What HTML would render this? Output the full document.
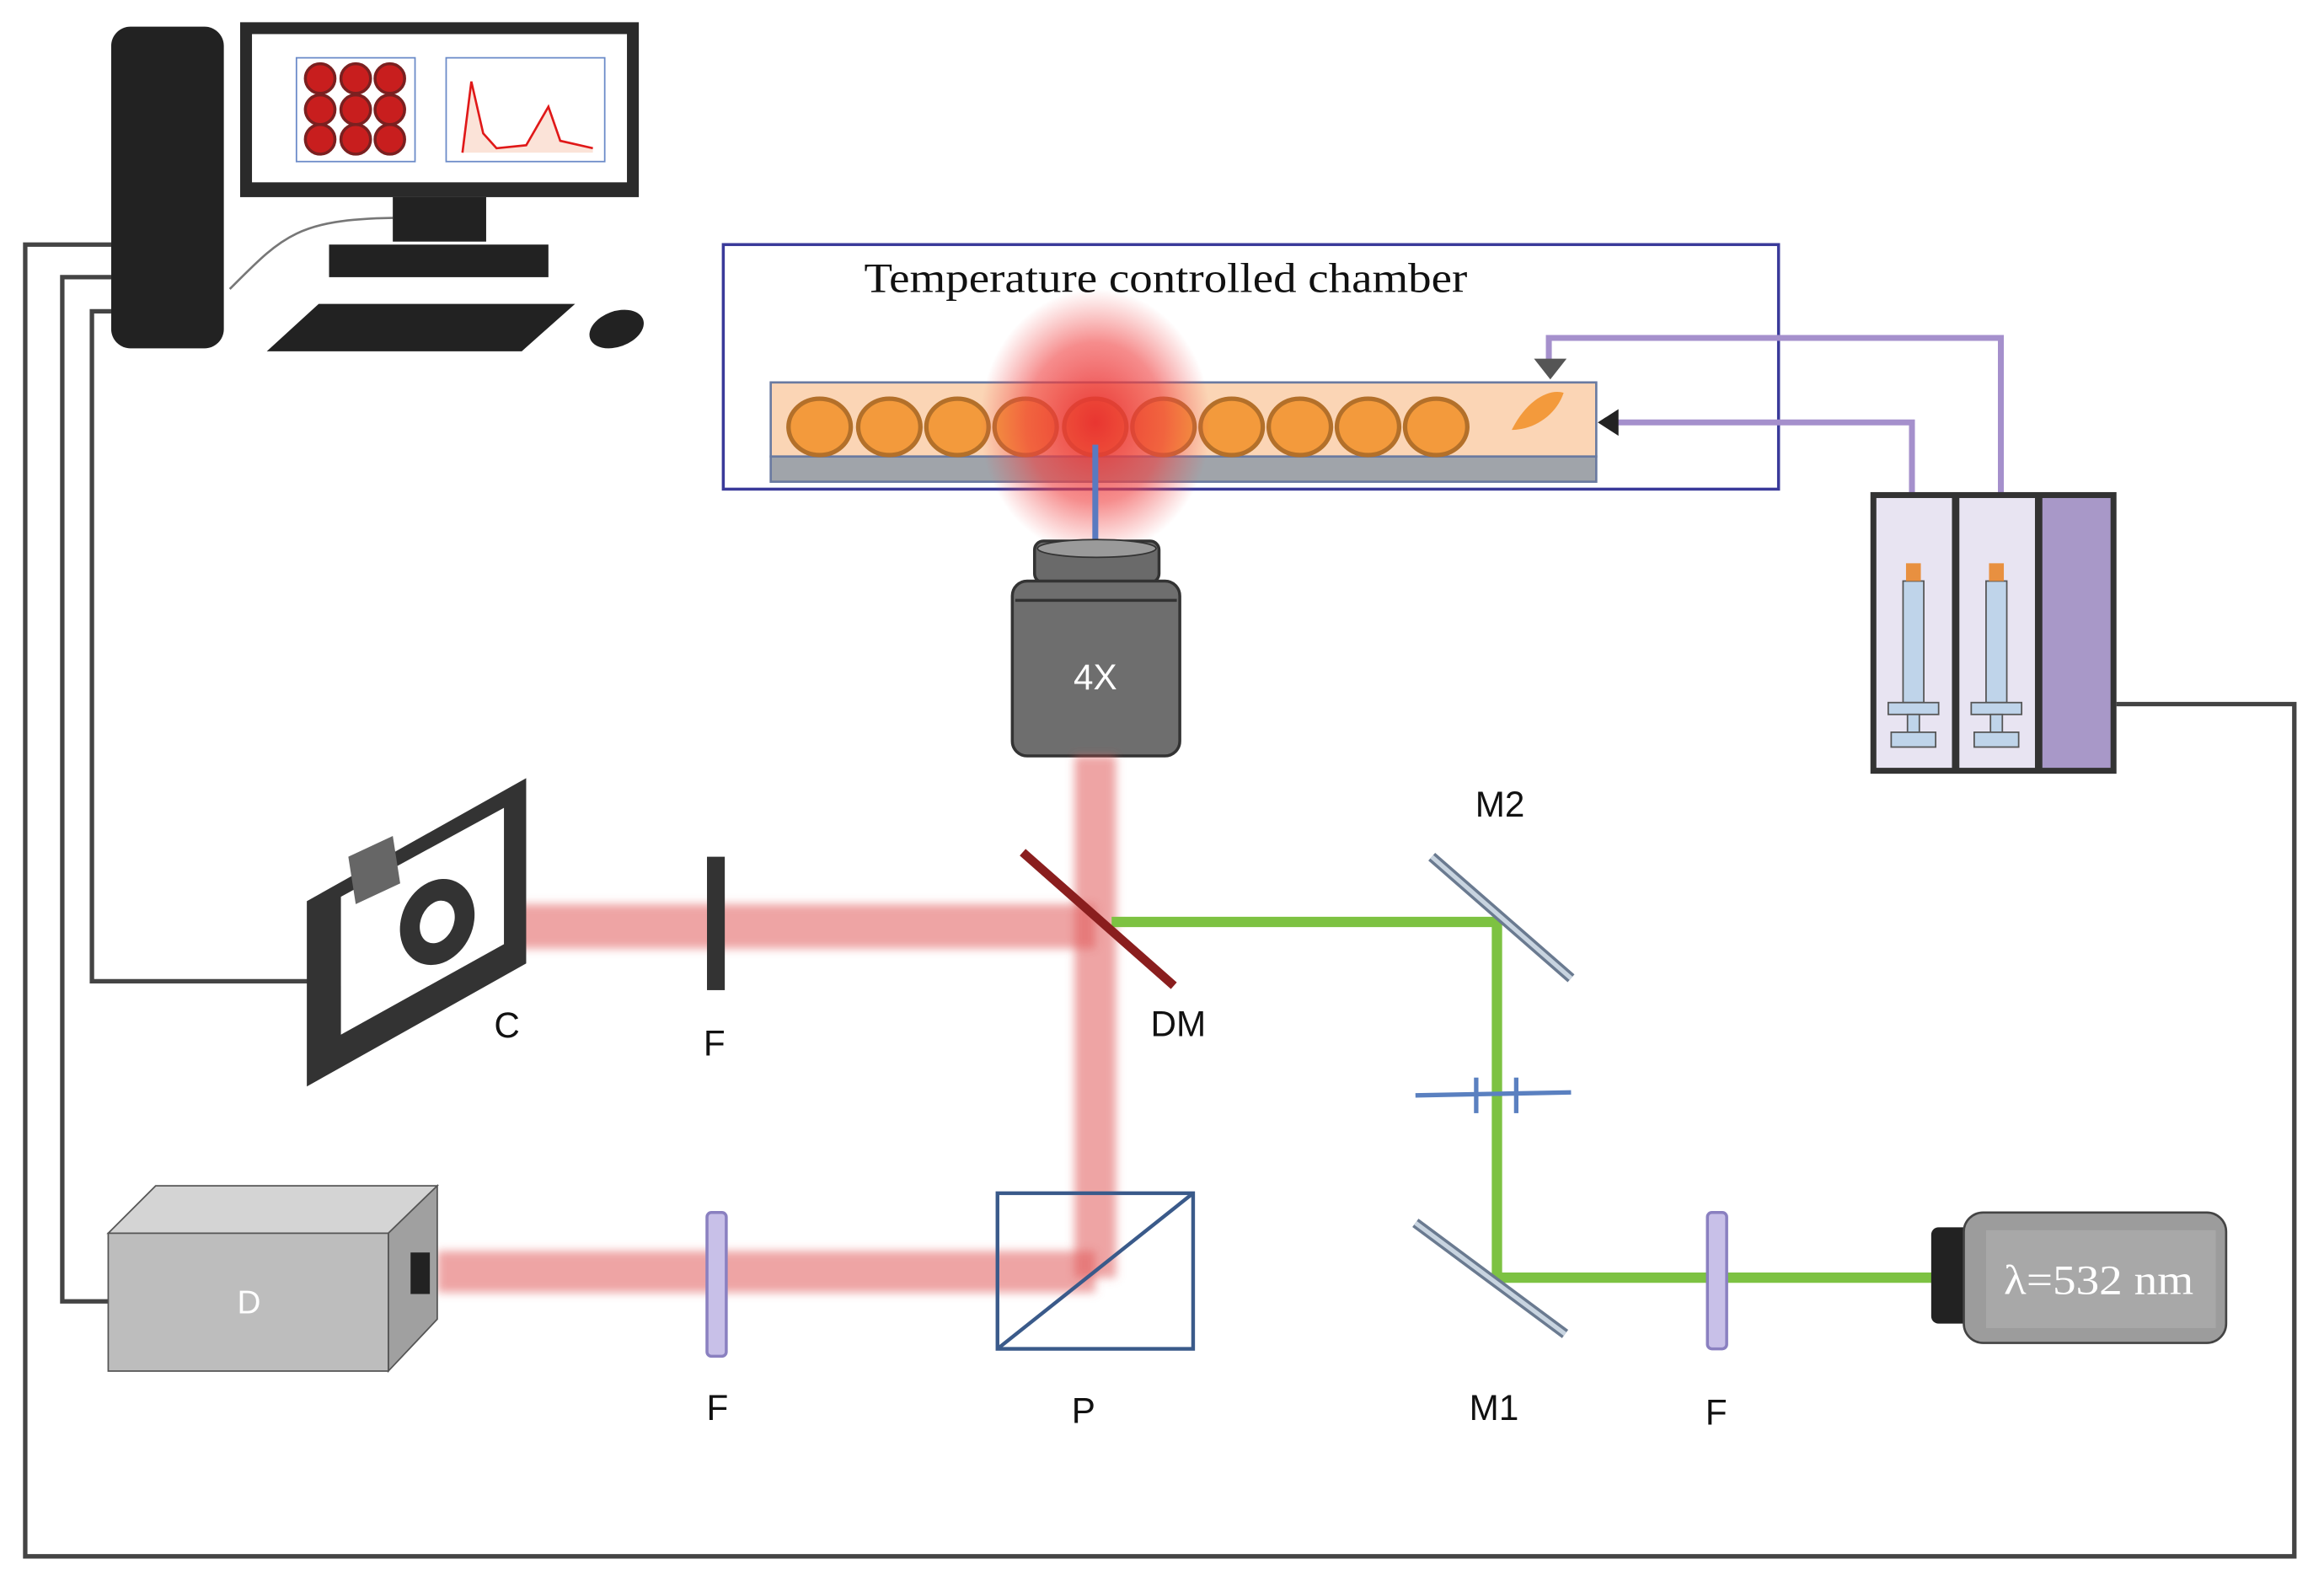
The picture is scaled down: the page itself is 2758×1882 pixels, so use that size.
<!DOCTYPE html>
<html><head><meta charset="utf-8"><style>html,body{margin:0;padding:0;background:#fff}svg{display:block}</style></head>
<body>
<svg width="2758" height="1882" viewBox="0 0 1568 1070" xmlns="http://www.w3.org/2000/svg">
<defs>
<radialGradient id="glow"><stop offset="0" stop-color="#e83030" stop-opacity="0.95"/><stop offset="0.6" stop-color="#f04040" stop-opacity="0.6"/><stop offset="1" stop-color="#f05050" stop-opacity="0"/></radialGradient>
<filter id="blur"><feGaussianBlur stdDeviation="3"/></filter>
</defs>
<g fill="none" stroke="#444" stroke-width="3">
<polyline points="75,165 17,165 17,1050 1548,1050 1548,475 1428,475"/>
<polyline points="75,187 42,187 42,878 73,878"/>
<polyline points="75,210 62,210 62,662 210,662"/>
</g>
<path d="M265,147 C200,148 190,160 155,195" stroke="#777" stroke-width="1.5" fill="none"/>
<rect x="75" y="18" width="76" height="217" rx="13" fill="#222"/>
<rect x="162" y="15" width="269" height="118" fill="#2a2a2a"/>
<rect x="170" y="23" width="253" height="100" fill="#fff"/>
<rect x="200" y="39" width="80" height="70" fill="#fff" stroke="#6a8ac8"/>
<g fill="#c81e1e" stroke="#7a2020" stroke-width="2">
<circle cx="216" cy="53" r="10"/><circle cx="240" cy="53" r="10"/><circle cx="263" cy="53" r="10"/>
<circle cx="216" cy="74" r="10"/><circle cx="240" cy="74" r="10"/><circle cx="263" cy="74" r="10"/>
<circle cx="216" cy="94" r="10"/><circle cx="240" cy="94" r="10"/><circle cx="263" cy="94" r="10"/>
</g>
<rect x="301" y="39" width="107" height="70" fill="#fff" stroke="#6a8ac8"/>
<path d="M312,103 L318,55 L326,90 L335,100 L355,98 L370,72 L378,95 L400,100 L400,103Z" fill="#fbe3d8"/>
<path d="M312,103 L318,55 L326,90 L335,100 L355,98 L370,72 L378,95 L400,100" fill="none" stroke="#e01818" stroke-width="1.5"/>
<rect x="265" y="133" width="63" height="30" fill="#222"/>
<rect x="222" y="165" width="148" height="22" fill="#222"/>
<polygon points="180,237 352,237 388,205 215,205" fill="#222"/>
<ellipse cx="416" cy="222" rx="19" ry="12" transform="rotate(-20 416 222)" fill="#222"/>
<rect x="488" y="165" width="712" height="165" fill="none" stroke="#3a3a9a" stroke-width="2"/>
<text x="583" y="197" font-family="Liberation Serif, serif" font-size="28" fill="#111" textLength="407" lengthAdjust="spacingAndGlyphs">Temperature controlled chamber</text>
<rect x="520" y="258" width="557" height="50" fill="#fbd5b5" stroke="#6a7aa0" stroke-width="1.5"/>
<rect x="520" y="308" width="557" height="17" fill="#a0a4aa" stroke="#6a7aa0" stroke-width="1.5"/>
<g fill="#f39a3c" stroke="#b3702a" stroke-width="3">
<ellipse cx="553" cy="288" rx="21" ry="19"/><ellipse cx="600" cy="288" rx="21" ry="19"/><ellipse cx="646" cy="288" rx="21" ry="19"/>
<ellipse cx="692" cy="288" rx="21" ry="19"/><ellipse cx="739" cy="288" rx="21" ry="19"/><ellipse cx="785" cy="288" rx="21" ry="19"/>
<ellipse cx="831" cy="288" rx="21" ry="19"/><ellipse cx="877" cy="288" rx="21" ry="19"/><ellipse cx="923" cy="288" rx="21" ry="19"/>
<ellipse cx="969" cy="288" rx="21" ry="19"/>
</g>
<path d="M1020,290 C1030,270 1045,262 1055,265 C1050,280 1035,290 1020,290Z" fill="#f39a3c"/>
<ellipse cx="739" cy="285" rx="78" ry="90" fill="url(#glow)"/>
<rect x="737" y="300" width="4" height="70" fill="#5a7ac0"/>
<g fill="none" stroke="#a590cc" stroke-width="4">
<polyline points="1045,245 1045,228 1350,228 1350,360"/>
<polyline points="1085,285 1290,285 1290,360"/>
</g>
<polygon points="1035,242 1057,242 1046,256" fill="#555"/>
<polygon points="1078,285 1092,276 1092,294" fill="#222"/>
<rect x="1262" y="332" width="166" height="190" fill="#333"/>
<rect x="1266" y="336" width="51" height="182" fill="#e8e4f2"/>
<rect x="1322" y="336" width="51" height="182" fill="#e8e4f2"/>
<rect x="1378" y="336" width="46" height="182" fill="#a898c8"/>
<g>
<rect x="1284" y="392" width="14" height="82" fill="#bfd4ea" stroke="#555"/>
<rect x="1286" y="380" width="10" height="12" fill="#e89040"/>
<rect x="1274" y="474" width="34" height="8" fill="#bfd4ea" stroke="#555"/>
<rect x="1287" y="482" width="8" height="12" fill="#bfd4ea" stroke="#555"/>
<rect x="1276" y="494" width="30" height="10" fill="#bfd4ea" stroke="#555"/>
<rect x="1340" y="392" width="14" height="82" fill="#bfd4ea" stroke="#555"/>
<rect x="1342" y="380" width="10" height="12" fill="#e89040"/>
<rect x="1330" y="474" width="34" height="8" fill="#bfd4ea" stroke="#555"/>
<rect x="1343" y="482" width="8" height="12" fill="#bfd4ea" stroke="#555"/>
<rect x="1332" y="494" width="30" height="10" fill="#bfd4ea" stroke="#555"/>
</g>
<rect x="698" y="365" width="84" height="28" rx="6" fill="#6a6a6a" stroke="#333" stroke-width="2"/>
<ellipse cx="740" cy="370" rx="40" ry="6" fill="#9a9a9a" stroke="#333"/>
<rect x="683" y="392" width="113" height="118" rx="10" fill="#6e6e6e" stroke="#333" stroke-width="2"/>
<line x1="685" y1="405" x2="794" y2="405" stroke="#333" stroke-width="2"/>
<text x="739" y="465" font-family="Liberation Sans, sans-serif" font-size="24" fill="#fff" text-anchor="middle">4X</text>
<g stroke="#e05a5a" stroke-opacity="0.55" filter="url(#blur)">
<line x1="739" y1="510" x2="739" y2="862" stroke-width="28"/>
<line x1="320" y1="625" x2="739" y2="625" stroke-width="30"/>
<line x1="295" y1="858" x2="739" y2="858" stroke-width="28"/>
</g>
<polyline points="750,622 1010,622 1010,862 1305,862" fill="none" stroke="#7dc242" stroke-width="7"/>
<line x1="690" y1="575" x2="792" y2="665" stroke="#8a1e1e" stroke-width="6"/>
<line x1="966" y1="578" x2="1060" y2="660" stroke="#6a7a90" stroke-width="7"/>
<line x1="966" y1="578" x2="1060" y2="660" stroke="#c8d4e0" stroke-width="3"/>
<line x1="955" y1="825" x2="1056" y2="900" stroke="#6a7a90" stroke-width="7"/>
<line x1="955" y1="825" x2="1056" y2="900" stroke="#c8d4e0" stroke-width="3"/>
<g stroke="#5a80c0" stroke-width="3"><line x1="955" y1="739" x2="1060" y2="737"/><line x1="996" y1="727" x2="996" y2="751"/><line x1="1023" y1="727" x2="1023" y2="751"/></g>
<rect x="1152" y="818" width="13" height="92" rx="3" fill="#c8c0e8" stroke="#8a80c0" stroke-width="2"/>
<rect x="477" y="818" width="13" height="97" rx="3" fill="#c8c0e8" stroke="#8a80c0" stroke-width="2"/>
<rect x="477" y="578" width="12" height="90" fill="#333"/>
<rect x="673" y="805" width="132" height="105" fill="none" stroke="#3a5a8a" stroke-width="2.5"/>
<line x1="673" y1="910" x2="805" y2="805" stroke="#3a5a8a" stroke-width="2.5"/>
<rect x="1303" y="828" width="27" height="65" rx="5" fill="#222"/>
<rect x="1325" y="818" width="177" height="88" rx="13" fill="#9c9c9c" stroke="#444" stroke-width="1.5"/>
<rect x="1340" y="830" width="155" height="66" fill="#a8a8a8"/>
<text x="1352" y="873" font-family="Liberation Serif, serif" font-size="28" fill="#fff" textLength="128" lengthAdjust="spacingAndGlyphs">λ=532 nm</text>
<polygon points="73,832 105,800 295,800 262,832" fill="#d4d4d4" stroke="#555"/>
<polygon points="262,832 295,800 295,890 262,925" fill="#a0a0a0" stroke="#555"/>
<rect x="73" y="832" width="189" height="93" fill="#bdbdbd" stroke="#555"/>
<rect x="277" y="845" width="13" height="28" fill="#222"/>
<text x="168" y="886" font-family="Liberation Sans, sans-serif" font-size="22" fill="#fff" text-anchor="middle">D</text>
<polygon points="207,608 355,525 355,650 207,733" fill="#333"/>
<polygon points="230,605 340,545 340,637 230,698" fill="#fff"/>
<ellipse cx="295" cy="622" rx="24" ry="30" transform="rotate(25 295 622)" fill="#333"/>
<ellipse cx="295" cy="622" rx="11" ry="15" transform="rotate(25 295 622)" fill="#fff"/>
<polygon points="235,578 265,564 270,596 240,610" fill="#666"/>
<g font-family="Liberation Sans, sans-serif" font-size="24" fill="#111" text-anchor="middle">
<text x="1012" y="551">M2</text><text x="795" y="699">DM</text><text x="1008" y="958">M1</text>
<text x="1158" y="961">F</text><text x="731" y="960">P</text><text x="484" y="958">F</text>
<text x="482" y="712">F</text><text x="342" y="700">C</text>
</g>
</svg>
</body></html>
